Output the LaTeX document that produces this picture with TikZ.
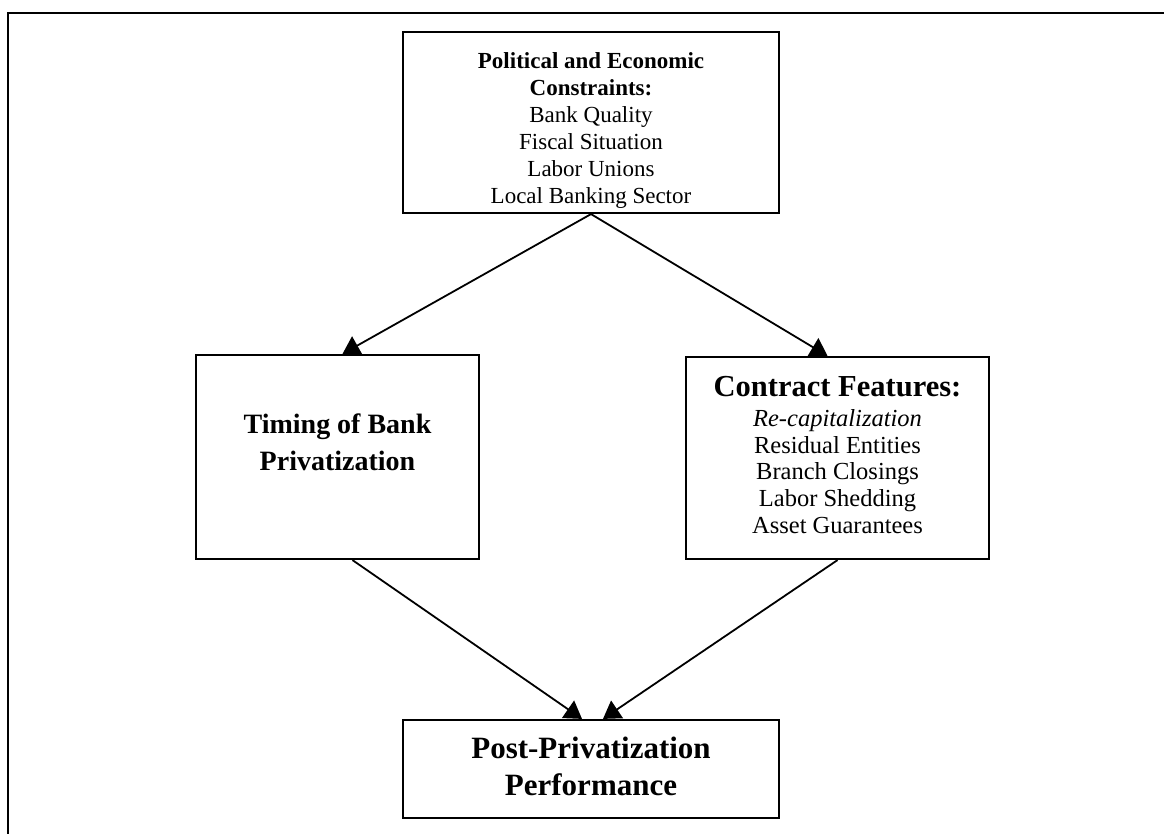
\documentclass[tikz,border=0pt]{standalone}
\usepackage{fontspec}
\setmainfont{Liberation Serif}
\usetikzlibrary{arrows.meta}
\begin{document}
\begin{tikzpicture}[x=1pt,y=-1pt,
  box/.style={draw, line width=2.2pt, inner sep=0pt},
  conn/.style={line width=1.8pt, -{Triangle[length=17pt,width=21pt]}},
  smalltxt/.style={align=center, inner sep=0pt, font=\fontsize{23}{27}\selectfont},
  sidetxt/.style={align=center, inner sep=0pt, font=\fontsize{24.5}{26.6}\selectfont},
  bigtxt/.style={align=center, inner sep=0pt, font=\fontsize{29}{37}\selectfont\bfseries}]
\useasboundingbox (0,0) rectangle (1164,834);
% outer frame (left and top edges)
\coordinate (fbl) at (8,834);
\coordinate (ftl) at (8,13);
\coordinate (ftr) at (1164,13);
\draw[line width=2.4pt] (fbl) -- (ftl) -- (ftr);
% boxes
\node[box, minimum width=376pt, minimum height=181pt] (top) at (591,122.5) {};
\node[box, minimum width=283pt, minimum height=204pt] (timing) at (337.5,457) {};
\node[box, minimum width=303pt, minimum height=202pt] (contract) at (837.5,458) {};
\node[box, minimum width=376pt, minimum height=98pt] (perf) at (591,769) {};
% texts
\node[smalltxt] (toptext) at (591,130.5) {\textbf{Political and Economic}\\\textbf{Constraints:}\\Bank Quality\\Fiscal Situation\\Labor Unions\\Local Banking Sector};
\node[bigtxt, font=\fontsize{28}{37}\selectfont\bfseries] (timingtext) at (337.5,442) {Timing of Bank\\Privatization};
\node[sidetxt] (contracttext) at (837.5,455) {{\fontsize{30.5}{30}\selectfont\bfseries Contract Features:}\\[3.4pt]\textit{Re-capitalization}\\Residual Entities\\Branch Closings\\Labor Shedding\\Asset Guarantees};
\node[bigtxt, font=\fontsize{31}{37}\selectfont\bfseries] (perftext) at (591,766) {Post-Privatization\\Performance};
% connectors
\draw[conn] (top.south) -- ([xshift=5pt]timing.north);
\draw[conn] (top.south) -- ([xshift=-10pt]contract.north);
\draw[conn] ([xshift=15pt]timing.south) -- ([xshift=-9pt]perf.north);
\draw[conn] (contract.south) -- ([xshift=12pt]perf.north);
\end{tikzpicture}
\end{document}
